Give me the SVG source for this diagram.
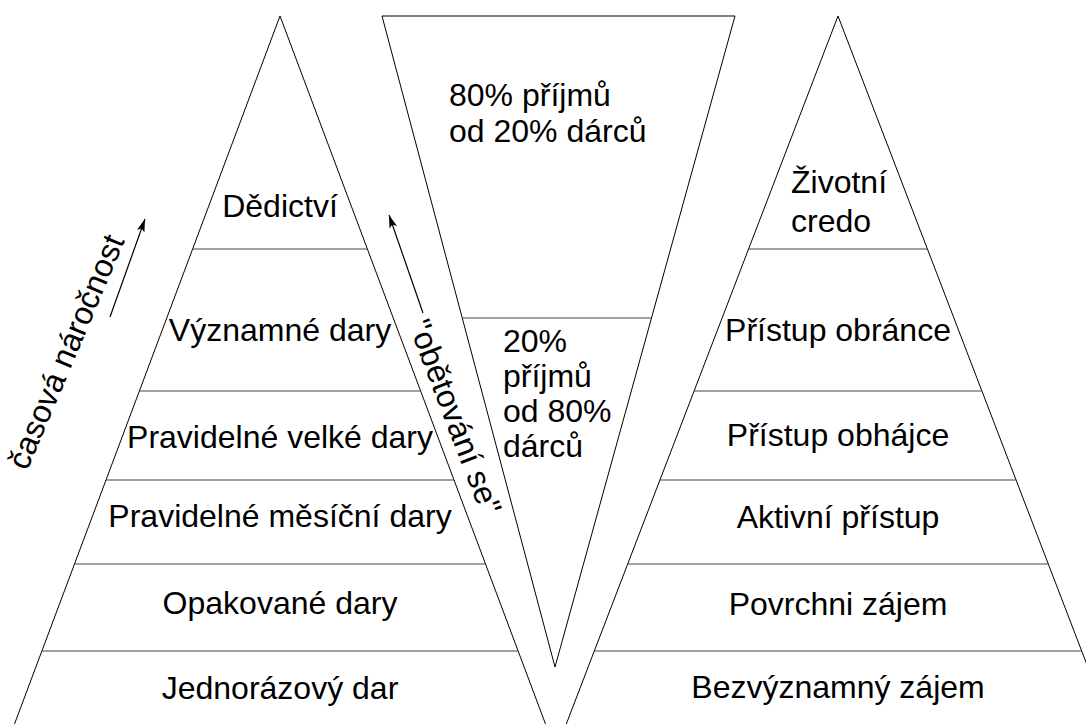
<svg xmlns="http://www.w3.org/2000/svg" width="1086" height="724" viewBox="0 0 1086 724">
<defs>
<style>
.edge{fill:none;stroke:#000;stroke-width:1}
.div{fill:none;stroke:#444;stroke-width:1.2}
text{font-family:"Liberation Sans",Arial,sans-serif;font-size:32px;fill:#000}
.c{text-anchor:middle}
.arrow{fill:none;stroke:#000;stroke-width:1.2}
</style>
<marker id="ah" markerUnits="userSpaceOnUse" markerWidth="14" markerHeight="10" refX="13" refY="4" orient="auto">
<path d="M0,0 L13,4 L0,8 L3,4 z" fill="#000"/>
</marker>
</defs>
<rect width="1086" height="724" fill="#fff"/>

<g id="left-pyramid">
<polyline class="edge" points="12.25,730 280,16 547.75,730"/>
<line class="div" x1="192.6" y1="249" x2="367.4" y2="249"/>
<line class="div" x1="139.4" y1="391" x2="420.6" y2="391"/>
<line class="div" x1="106" y1="480" x2="454" y2="480"/>
<line class="div" x1="74.5" y1="564" x2="485.5" y2="564"/>
<line class="div" x1="41.9" y1="651" x2="518.1" y2="651"/>
<text class="c" x="280" y="217">Dědictví</text>
<text class="c" x="280" y="341">Významné dary</text>
<text class="c" x="280" y="448">Pravidelné velké dary</text>
<text class="c" x="280" y="527">Pravidelné měsíční dary</text>
<text class="c" x="280" y="614">Opakované dary</text>
<text class="c" x="280" y="699">Jednorázový dar</text>
</g>

<g id="inverted-pyramid">
<polygon class="edge" points="382,16 735,16 555,667"/>
<line class="div" x1="462.3" y1="318" x2="651" y2="318"/>
<text x="449" y="106">80% příjmů</text>
<text x="449" y="142">od 20% dárců</text>
<text x="503" y="352">20%</text>
<text x="503" y="387">příjmů</text>
<text x="503" y="422">od 80%</text>
<text x="503" y="457">dárců</text>
</g>

<g id="right-pyramid">
<polyline class="edge" points="564,730 838,16 1112,730"/>
<line class="div" x1="748.5" y1="249" x2="927.5" y2="249"/>
<line class="div" x1="694" y1="391" x2="982" y2="391"/>
<line class="div" x1="659.8" y1="480" x2="1016.2" y2="480"/>
<line class="div" x1="627.6" y1="564" x2="1048.4" y2="564"/>
<line class="div" x1="594.2" y1="651" x2="1081.8" y2="651"/>
<text x="791" y="193">Životní</text>
<text x="791" y="232">credo</text>
<text class="c" x="838" y="341">Přístup obránce</text>
<text class="c" x="838" y="446">Přístup obhájce</text>
<text class="c" x="838" y="528">Aktivní přístup</text>
<text class="c" x="838" y="615">Povrchni zájem</text>
<text class="c" x="838" y="698">Bezvýznamný zájem</text>
</g>

<g id="label-casova">
<text class="c" transform="translate(76,356) rotate(-67)">časová náročnost</text>
</g>
<g id="label-obetovani">
<text class="c" transform="translate(445,421) rotate(69)">"obětování se"</text>
</g>

<g id="connectors">
<line class="arrow" x1="110" y1="317" x2="145" y2="219" marker-end="url(#ah)"/>
<line class="arrow" x1="423" y1="313" x2="389" y2="215" marker-end="url(#ah)"/>
</g>
</svg>
